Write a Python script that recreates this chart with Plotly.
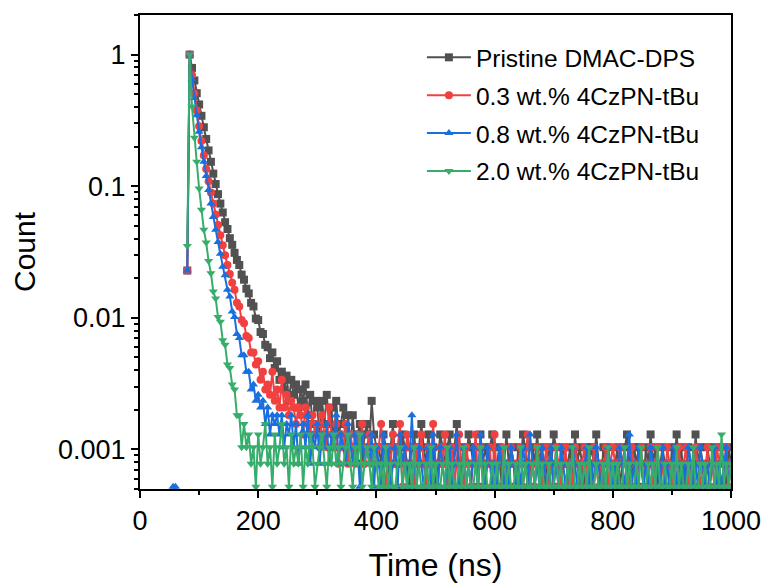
import plotly.graph_objects as go

# Time grid (ns), 4 ns bins
time_ns = list(range(56, 1004, 4))

# Photon counts per bin (peak normalised to 1 with PEAK_COUNTS)
PEAK_COUNTS = 3850

counts_pristine = [
    0, 0, 0, 0, 0, 0,
    88, 3850, 3050, 2450, 1960, 1610, 1320, 1080, 880, 720,
    590, 480, 400, 335, 284, 243, 205, 182, 155, 138,
    120, 106, 97, 82, 75, 64, 59, 50, 47, 38,
    37, 30, 29, 24, 23, 19, 21, 16, 18, 13,
    15, 11, 14, 9, 13, 10, 12, 8, 11, 9,
    12, 7, 10, 6, 9, 8, 5, 9, 6, 10,
    6, 8, 4, 9, 5, 6, 8, 4, 7, 4,
    7, 4, 5, 6, 3, 5, 6, 4, 9, 5,
    4,
    4, 3, 5, 4, 2, 4, 6, 3, 4, 3, 5, 4, 3, 2, 4, 5, 3, 4, 6, 4,
    3, 5, 3, 4, 2, 3, 5, 4, 3, 4, 5, 3, 4, 6, 3, 2, 4, 3, 5, 4,
    3, 4, 2, 5, 3, 4, 3, 4, 5, 3,
    3, 4, 2, 3, 5, 3, 4, 3, 2, 4, 3, 5, 4, 3, 2, 4, 3, 5, 3, 4,
    2, 3, 4, 3, 5, 4, 2, 3, 4, 3, 3, 4, 2, 5, 3, 4, 3, 2, 4, 3,
    4, 3, 5, 3, 2, 4, 3, 4, 2, 3,
    3, 4, 2, 3, 4, 5, 3, 2, 4, 3, 4, 3, 2, 4, 3, 5, 3, 4, 2, 3,
    4, 3, 3, 2, 4, 3, 5, 3, 4, 2, 3, 4, 3, 2, 5, 3, 4, 3, 2, 4,
    3, 3, 4, 2, 3, 4, 3, 2, 4, 3,
]

counts_03 = [
    0, 0, 0, 0, 0, 0,
    88, 3850, 2700, 1950, 1450, 1100, 850, 660, 520, 420,
    345, 285, 235, 195, 163, 137, 115, 97, 83, 71,
    63, 50, 47, 37, 35, 28, 27, 21, 21, 17,
    18, 13, 15, 11, 12, 10, 15, 9, 11, 8,
    13, 8, 10, 7, 9, 8, 6, 8, 7, 5,
    8, 6, 5, 7, 5, 6, 4, 7, 5, 4,
    8, 5, 4, 6, 3, 5, 4, 6, 3, 5,
    4, 3, 5, 4, 6, 3, 4, 5, 3, 4,
    3,
    4, 6, 3, 2, 4, 3, 5, 3, 4, 6, 2, 3, 5, 4, 3, 2, 4, 3, 5, 3,
    2, 4, 3, 6, 3, 2, 4, 3, 5, 2, 3, 4, 2, 3, 5, 3, 2, 4, 3, 2,
    3, 5, 2, 4, 3, 2, 3, 4, 2, 5,
    2, 3, 4, 2, 3, 2, 4, 3, 2, 3, 4, 2, 3, 5, 2, 3, 2, 4, 3, 2,
    3, 4, 2, 3, 2, 4, 3, 2, 3, 4, 2, 3, 2, 4, 3, 2, 3, 4, 2, 3,
    2, 4, 3, 2, 3, 2, 4, 2, 3, 4,
    3, 2, 4, 3, 2, 3, 2, 4, 3, 2, 3, 4, 2, 3, 2, 4, 2, 3, 4, 2,
    3, 2, 4, 3, 2, 3, 2, 4, 2, 3, 4, 2, 3, 2, 4, 3, 2, 3, 2, 4,
    2, 3, 2, 4, 3, 2, 3, 4, 2, 3,
]

counts_08 = [
    2, 2, 1, 0, 0, 0,
    88, 3850, 2500, 1800, 1330, 1000, 760, 590, 460, 360,
    285, 225, 180, 145, 118, 94, 81, 63, 56, 43,
    39, 29, 27, 20, 20, 15, 15, 11, 12, 9,
    10, 8, 9, 6, 8, 5, 7, 6, 7, 5,
    7, 4, 6, 5, 7, 4, 6, 3, 5, 6,
    4, 7, 3, 5, 4, 6, 3, 5, 4, 6,
    3, 5, 4, 7, 3, 5, 4, 3, 6, 4,
    3, 5, 4, 2, 5, 3, 4, 3, 5, 2,
    4,
    3, 2, 5, 3, 4, 2, 3, 4, 2, 5, 3, 4, 2, 3, 7, 3, 2, 4, 3, 2,
    3, 4, 2, 5, 3, 2, 4, 3, 2, 3, 4, 2, 3, 5, 2, 3, 4, 2, 3, 2,
    4, 3, 2, 5, 3, 2, 4, 3, 2, 3,
    2, 4, 3, 2, 3, 2, 4, 3, 2, 3, 2, 4, 3, 2, 5, 3, 2, 3, 2, 4,
    3, 2, 3, 4, 2, 3, 2, 4, 3, 2, 3, 2, 4, 3, 2, 3, 2, 3, 4, 2,
    3, 2, 4, 3, 2, 3, 2, 4, 3, 2,
    3, 2, 4, 3, 2, 3, 5, 2, 3, 2, 4, 3, 2, 3, 2, 4, 3, 2, 3, 2,
    4, 2, 3, 2, 3, 4, 2, 3, 2, 3, 2, 4, 3, 2, 3, 2, 4, 3, 2, 3,
    2, 3, 4, 2, 3, 2, 3, 4, 2, 3,
]

counts_20 = [
    0, 0, 0, 0, 0, 0,
    135, 3850, 1550, 900, 590, 370, 255, 180, 144, 104,
    84, 61, 54, 39, 36, 26, 24, 17, 16, 12,
    11, 7, 7, 4, 6, 4, 5, 3, 4, 2,
    5, 3, 4, 6, 3, 4, 2, 5, 3, 4,
    6, 3, 4, 2, 5, 3, 4, 3, 5, 2,
    4, 3, 5, 4, 2, 3, 4, 5, 3, 2,
    4, 3, 5, 3, 4, 2, 3, 4, 5, 3,
    2, 4, 3, 5, 2, 3, 4, 3, 2, 4,
    3,
    2, 3, 2, 4, 2, 3, 2, 2, 3, 4, 2, 3, 2, 3, 2, 4, 2, 3, 2, 2,
    3, 2, 4, 2, 3, 2, 2, 3, 2, 4, 2, 3, 2, 2, 3, 2, 4, 2, 3, 2,
    2, 3, 2, 4, 2, 3, 2, 2, 3, 2,
    3, 2, 2, 4, 2, 3, 2, 2, 3, 2, 4, 2, 3, 2, 2, 3, 2, 4, 2, 3,
    2, 2, 3, 2, 2, 4, 2, 3, 2, 2, 3, 2, 4, 2, 2, 3, 2, 3, 2, 4,
    2, 2, 3, 2, 2, 3, 2, 4, 2, 3,
    2, 3, 2, 2, 4, 2, 3, 2, 2, 3, 2, 4, 2, 2, 3, 2, 3, 2, 4, 2,
    2, 3, 2, 2, 3, 2, 4, 2, 3, 2, 2, 3, 2, 4, 2, 2, 3, 2, 3, 2,
    2, 4, 2, 3, 2, 5, 2, 3, 2, 3,
]

series_names = ["Pristine DMAC-DPS", "0.3 wt.% 4CzPN-tBu",
                "0.8 wt.% 4CzPN-tBu", "2.0 wt.% 4CzPN-tBu"]
series_counts = [counts_pristine, counts_03, counts_08, counts_20]
series_colors = ["#515151", "#F14040", "#1A6FDF", "#37AD6B"]
series_symbols = ["square", "circle", "triangle-up", "triangle-down"]

x_ticks = [0, 200, 400, 600, 800, 1000]
x_minor_ticks = [100, 300, 500, 700, 900]
y_ticks = [0.001, 0.01, 0.1, 1]
y_ticktext = ["0.001", "0.01", "0.1", "1"]
y_minor_ticks = [m * d for d in (0.0001, 0.001, 0.01, 0.1) for m in range(2, 10)] + [2]

FONT = "Arial, Liberation Sans, sans-serif"

fig = go.Figure()
for name, cnts, col, sym in zip(series_names, series_counts, series_colors, series_symbols):
    yvals = [c / PEAK_COUNTS if c > 0 else None for c in cnts]
    fig.add_trace(go.Scatter(
        x=time_ns, y=yvals, name=name, mode="lines+markers",
        legendgroup=name,
        line=dict(color=col, width=2),
        marker=dict(symbol=sym, size=8, color=col, line=dict(width=0)),
        connectgaps=False,
    ))

fig.update_layout(
    width=764, height=583,
    margin=dict(l=140, r=33, t=15, b=94),
    paper_bgcolor="white", plot_bgcolor="white",
    font=dict(family=FONT, color="black", size=24),
    showlegend=True,
    legend=dict(
        x=0.477, y=0.958, xanchor="left", yanchor="top",
        font=dict(family=FONT, size=24.5, color="black"),
        bgcolor="rgba(0,0,0,0)", borderwidth=0,
        itemwidth=44, tracegroupgap=3,
    ),
)
fig.update_xaxes(
    range=[0, 1000], tickvals=x_ticks, ticks="outside", ticklen=7, tickwidth=2,
    tickcolor="black", showline=True, linewidth=2, linecolor="black", mirror=True,
    showgrid=False, zeroline=False, automargin=False,
    tickfont=dict(family=FONT, size=27, color="black"),
    minor=dict(tickvals=x_minor_ticks, ticks="outside", ticklen=4, tickwidth=2,
               tickcolor="black", showgrid=False),
    title=dict(text="Time (ns)", font=dict(family=FONT, size=32, color="black"), standoff=18),
)
fig.update_yaxes(
    type="log", range=[-3.301, 0.301],
    tickvals=y_ticks, ticktext=y_ticktext, ticks="outside", ticklen=7, tickwidth=2,
    tickcolor="black", showline=True, linewidth=2, linecolor="black", mirror=True,
    showgrid=False, zeroline=False, automargin=False,
    tickfont=dict(family=FONT, size=27, color="black"),
    minor=dict(tickvals=y_minor_ticks, ticks="outside", ticklen=4, tickwidth=1.5,
               tickcolor="black", showgrid=False),
    title=dict(text="Count", font=dict(family=FONT, size=30, color="black"), standoff=14),
)

fig.write_html("out.html")
